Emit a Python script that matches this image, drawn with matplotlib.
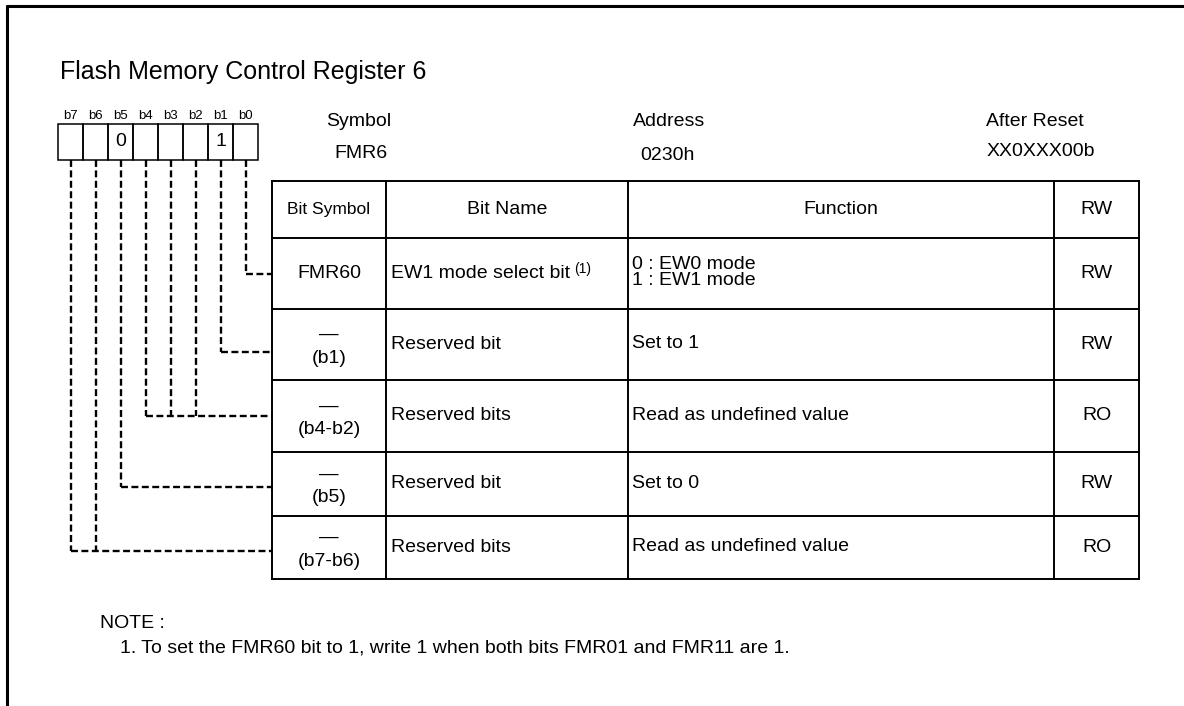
import matplotlib
matplotlib.use("Agg")
from matplotlib import pyplot as plt

plt.rcParams['font.family'] = ['Liberation Sans', 'DejaVu Sans']
plt.rcParams['lines.scale_dashes'] = False

# =====================================================================
# DONNÉES DU REGISTRE
# =====================================================================

titre = "Flash Memory Control Register 6"
bits = ["b7", "b6", "b5", "b4", "b3", "b2", "b1", "b0"]
valeurs_bits = ["", "", "0", "", "", "", "1", ""]

symbole = "FMR6"
adresse = "0230h"
apres_reset = "XX0XXX00b"

entetes = ["Bit Symbol", "Bit Name", "Function", "RW"]
symboles_bits = ["FMR60", "(b1)", "(b4-b2)", "(b5)", "(b7-b6)"]
reserve = [False, True, True, True, True]
noms_bits = ["EW1 mode select bit", "Reserved bit", "Reserved bits", "Reserved bit", "Reserved bits"]
fonctions = ["0 : EW0 mode\n1 : EW1 mode", "Set to 1", "Read as undefined value",
             "Set to 0", "Read as undefined value"]
acces = ["RW", "RW", "RO", "RW", "RO"]
# bits reliés à chaque ligne du tableau (indices dans `bits`)
groupes = [[7], [6], [3, 4, 5], [2], [0, 1]]

note_titre = "NOTE :"
notes = ["1. To set the FMR60 bit to 1, write 1 when both bits FMR01 and FMR11 are 1."]

# =====================================================================
# GÉOMÉTRIE (pixels)
# =====================================================================

W, H = 1184, 706
fig = plt.figure(figsize=(W / 100, H / 100), dpi=100)
ax = fig.add_axes([0, 0, 1, 1])
ax.set_xlim(0, W)
ax.set_ylim(H, 0)
ax.axis('off')

FS = 14  # taille du texte courant

# cadre (haut + gauche)
ax.plot([6, W], [5.5, 5.5], color='black', lw=2.2, solid_capstyle='butt')
ax.plot([6.5, 6.5], [5, H], color='black', lw=2.2, solid_capstyle='butt')

ax.text(60, 72, titre, fontsize=18, va='center', ha='left')

# cases des bits
x0_bit, larg_bit, y_haut, y_bas = 58, 25, 124, 160
centres_bits = []
for i, (b, v) in enumerate(zip(bits, valeurs_bits)):
    x = x0_bit + i * larg_bit
    ax.add_patch(plt.Rectangle((x, y_haut), larg_bit, y_bas - y_haut,
                               fill=False, ec='black', lw=1.1))
    ax.text(x + larg_bit / 2, 116, b, fontsize=9.5, ha='center', va='center')
    if v:
        ax.text(x + larg_bit / 2, 142, v, fontsize=14, ha='center', va='center')
    centres_bits.append(x + larg_bit / 2)

# Symbol / Address / After Reset
ax.text(359, 121, "Symbol", fontsize=FS, ha='center', va='center')
ax.text(361, 154, symbole, fontsize=FS, ha='center', va='center')
ax.text(669, 121, "Address", fontsize=FS, ha='center', va='center')
ax.text(667, 155, adresse, fontsize=FS, ha='center', va='center')
ax.text(1035, 121, "After Reset", fontsize=FS, ha='center', va='center')
ax.text(1041, 152, apres_reset, fontsize=FS, ha='center', va='center')

# tableau
cols = [272, 386, 628, 1054, 1139]
lignes = [181, 238, 309, 380, 452, 516, 579]
decal_liaison = [0, 7, 0, 3, 3]
for x in cols:
    ax.plot([x, x], [lignes[0], lignes[-1]], color='black', lw=1.4)
for y in lignes:
    ax.plot([cols[0], cols[-1]], [y, y], color='black', lw=1.4)

yc_ent = (lignes[0] + lignes[1]) / 2
for j, e in enumerate(entetes):
    ax.text((cols[j] + cols[j + 1]) / 2, yc_ent, e,
            fontsize=12.5 if j == 0 else FS, ha='center', va='center')

for k in range(len(symboles_bits)):
    yc = (lignes[k + 1] + lignes[k + 2]) / 2
    xs = (cols[0] + cols[1]) / 2
    if reserve[k]:
        ax.text(xs, yc - 10, "—", fontsize=FS, ha='center', va='center')
        ax.text(xs, yc + 14, symboles_bits[k], fontsize=FS, ha='center', va='center')
    else:
        ax.text(xs, yc, symboles_bits[k], fontsize=FS, ha='center', va='center')
    t = ax.text(cols[1] + 5, yc, noms_bits[k], fontsize=FS, ha='left', va='center')
    if k == 0:
        ax.annotate("(1)", xy=(1, 1), xycoords=t, xytext=(3, 2),
                    textcoords='offset points', fontsize=10, ha='left', va='top')
    ax.text(cols[2] + 4, yc - 1, fonctions[k], fontsize=FS, ha='left', va='center',
            linespacing=0.95)
    ax.text((cols[3] + cols[4]) / 2, yc, acces[k], fontsize=FS, ha='center', va='center')

    # liaisons pointillées
    yl = yc + decal_liaison[k]
    xs_g = [centres_bits[i] for i in groupes[k]]
    for xg in xs_g:
        ax.plot([xg, xg], [y_bas, yl], color='black', lw=1.7, ls=(0, (5, 2.5)))
    ax.plot([min(xs_g), cols[0]], [yl, yl], color='black', lw=1.7, ls=(0, (5, 2.5)))

ax.text(100, 624, note_titre, fontsize=FS, ha='left', va='center')
for n, txt in enumerate(notes):
    ax.text(120, 648 + n * 22, txt, fontsize=FS, ha='left', va='center')

plt.savefig("out.png", dpi=100)
plt.close()
